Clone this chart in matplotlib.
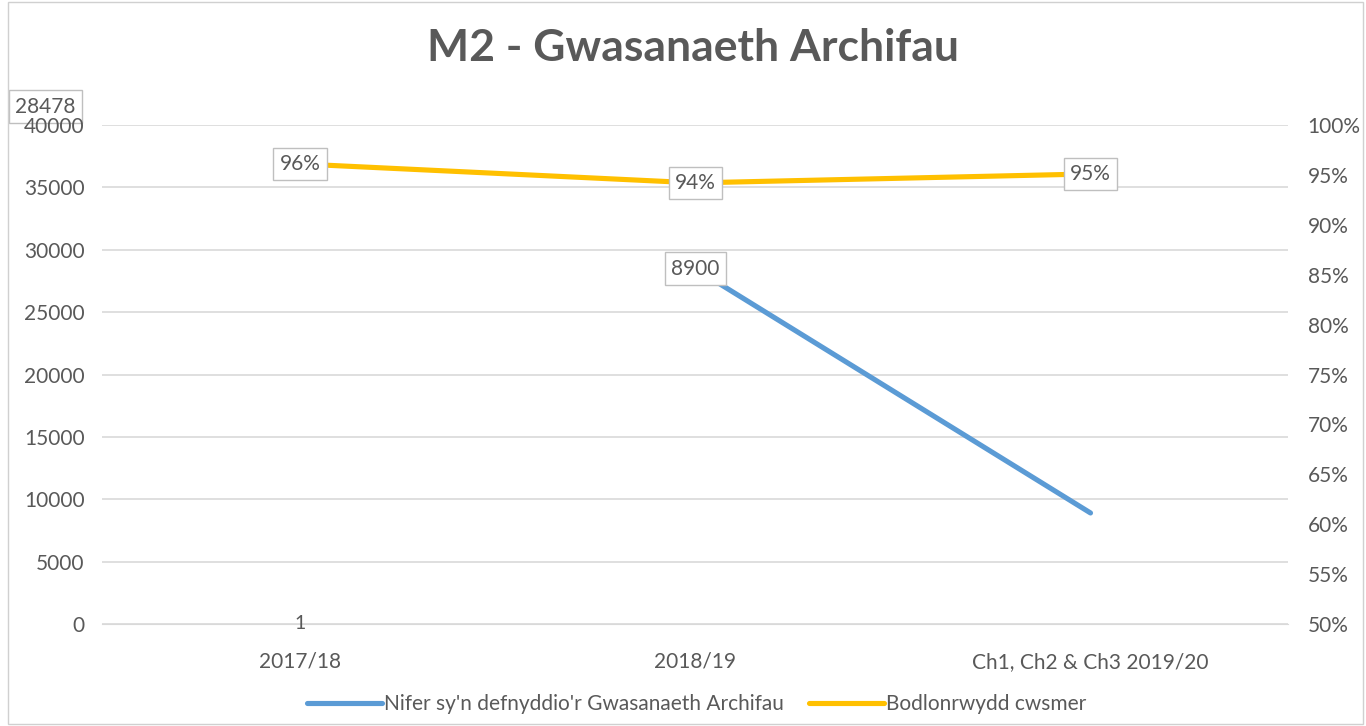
import numpy as np
import matplotlib.pyplot as plt
from matplotlib.patches import Rectangle

plt.rcParams['font.family'] = ['Lato', 'DejaVu Sans']

# data
categories = ['2017/18', '2018/19', 'Ch1, Ch2 & Ch3 2019/20']
users = [np.nan, 28478, 8900]
satisfaction = [0.961, 0.942, 0.951]
user_labels = ['1', '8900']
sat_labels = ['96%', '94%', '95%']
left_ticks = list(range(0, 40001, 5000))
right_ticks = [0.5, 0.55, 0.6, 0.65, 0.7, 0.75, 0.8, 0.85, 0.9, 0.95, 1.0]

blue = '#5B9BD5'
gold = '#FFC000'
grey_txt = '#595959'
grid_col = '#D9D9D9'

fig = plt.figure(figsize=(13.66, 7.26), dpi=100)
fig.patches.append(Rectangle((0.006, 0.003), 0.992, 0.994, transform=fig.transFigure,
                             fill=False, edgecolor='#D0D0D0', lw=1))

ax = fig.add_axes([0.075, 0.1405, 0.868, 0.6873])
ax2 = ax.twinx()

x = np.arange(len(categories))
ax.plot(x, users, color=blue, lw=3.7, solid_capstyle='round', zorder=3)
ax2.plot(x, satisfaction, color=gold, lw=3.7, solid_capstyle='round', zorder=3)

ax.set_xlim(-0.5, len(categories) - 0.5)
ax.set_ylim(0, 40000)
ax2.set_ylim(0.5, 1.0)
ax.set_yticks(left_ticks)
ax.set_yticklabels([str(v) for v in left_ticks])
ax2.set_yticks(right_ticks)
ax2.set_yticklabels([f'{round(v * 100)}%' for v in right_ticks])
ax.set_xticks(x)
ax.set_xticklabels(categories)

ax.grid(axis='y', color=grid_col, lw=1.2)
ax.set_axisbelow(True)
for a in (ax, ax2):
    for s in a.spines.values():
        s.set_visible(False)
    a.tick_params(length=0, labelsize=15, labelcolor=grey_txt)
ax.spines['bottom'].set_visible(True)
ax.spines['bottom'].set_color(grid_col)
ax.tick_params(axis='y', pad=13)
ax.tick_params(axis='x', pad=20)
ax2.tick_params(axis='y', pad=14)

box = dict(boxstyle='square,pad=0.3', fc='white', ec='#BFBFBF', lw=1)
ax2.set_zorder(ax.get_zorder() + 1)
ax2.patch.set_visible(False)

for xi, (v, lab) in enumerate(zip(satisfaction, sat_labels)):
    ax2.text(xi, v, lab, ha='center', va='center', fontsize=15, color=grey_txt, bbox=box, zorder=5)

# misplaced labels as in the original
ax.text(x[1], users[1], user_labels[1], ha='center', va='center', fontsize=15,
        color=grey_txt, bbox=box, zorder=5)
ax.text(x[0], 0, user_labels[0], ha='center', va='center', fontsize=14, color=grey_txt, zorder=5)
fig.text(0.033, 0.853, '28478', ha='center', va='center', fontsize=15, color=grey_txt, bbox=box,
         zorder=-1)

fig.suptitle('M2 - Gwasanaeth Archifau', x=0.507, y=0.962, fontsize=32, fontweight='bold',
             color=grey_txt)

h1, = ax.plot([], [], color=blue, lw=3.7, solid_capstyle='round')
h2, = ax.plot([], [], color=gold, lw=3.7, solid_capstyle='round')
fig.legend([h1, h2], ["Nifer sy'n defnyddio'r Gwasanaeth Archifau", 'Bodlonrwydd cwsmer'],
           loc='center', bbox_to_anchor=(0.51, 0.03), ncol=2, frameon=False, fontsize=15,
           handlelength=3.6, handletextpad=0.1, columnspacing=1.2, labelcolor=grey_txt)

fig.savefig('out.png', dpi=100)
